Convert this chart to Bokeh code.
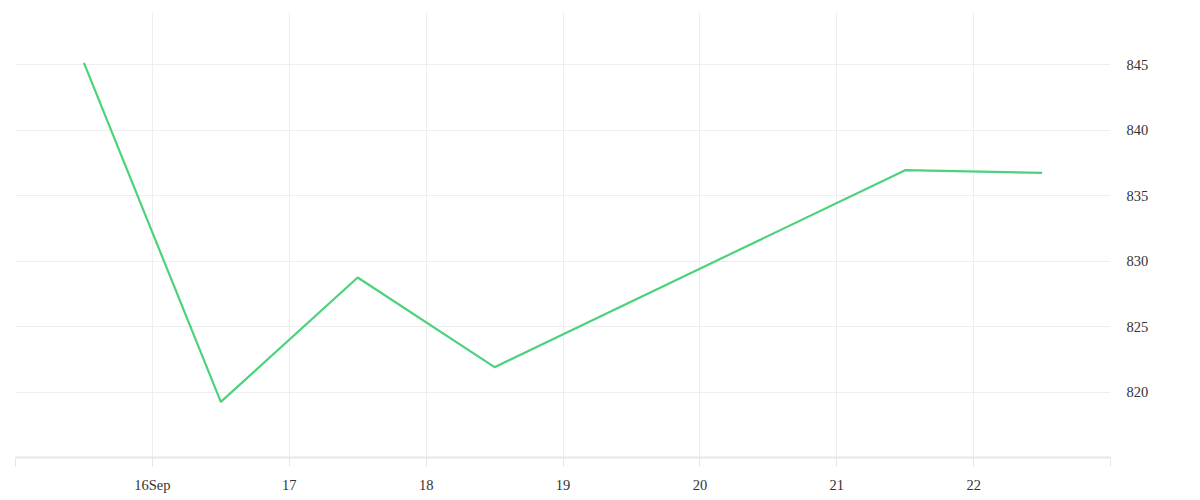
import pandas as pd
from bokeh.plotting import figure
from bokeh.models import FixedTicker, Range1d
from bokeh.embed import file_html
from bokeh.resources import INLINE

dates = ["2017-09-15 12:00", "2017-09-16 12:00", "2017-09-17 12:00",
         "2017-09-18 12:00", "2017-09-21 12:00", "2017-09-22 12:00"]
values = [845.15, 819.25, 828.75, 821.9, 836.95, 836.75]

tick_days = ["2017-09-15", "2017-09-16", "2017-09-17", "2017-09-18", "2017-09-19",
             "2017-09-20", "2017-09-21", "2017-09-22", "2017-09-23"]
tick_labels = ["", "16Sep", "17", "18", "19", "20", "21", "22", ""]
y_ticks = [820, 825, 830, 835, 840, 845]

def ms(s):
    return pd.Timestamp(s).value / 1e6

xs = [ms(d) for d in dates]
xt = [ms(d) for d in tick_days]

p = figure(width=1192, height=495, output_backend="svg", toolbar_location=None,
           x_range=Range1d(xt[0], xt[-1]), y_range=Range1d(815, 849),
           y_axis_location="right",
           min_border_left=15, min_border_top=12, min_border_right=82, min_border_bottom=34)
p.outline_line_color = None
p.background_fill_color = "white"
p.border_fill_color = "white"

p.line(xs, values, line_color="#4cd27b", line_width=2.2)

xa = p.xaxis[0]
xa.ticker = FixedTicker(ticks=xt)
xa.major_label_overrides = {t: l for t, l in zip(xt, tick_labels)}
xa.axis_line_color = "#e6e6e6"
xa.axis_line_width = 2
xa.major_tick_line_color = "#e6e6e6"
xa.major_tick_in = 0
xa.major_tick_out = 9
xa.minor_tick_line_color = None
xa.major_label_standoff = 10
xa.major_label_text_font = "Liberation Serif"
xa.major_label_text_font_size = "14.5px"
xa.major_label_text_color = "#333333"

ya = p.yaxis[0]
ya.ticker = FixedTicker(ticks=y_ticks)
ya.axis_line_color = None
ya.major_tick_line_color = None
ya.minor_tick_line_color = None
ya.major_tick_out = 0
ya.major_tick_in = 0
ya.major_label_standoff = 16
ya.major_label_text_font = "Liberation Serif"
ya.major_label_text_font_size = "14.5px"
ya.major_label_text_color = "#333333"

p.xgrid.ticker = FixedTicker(ticks=xt)
p.ygrid.ticker = FixedTicker(ticks=y_ticks)
p.xgrid.grid_line_color = "#eeeeee"
p.ygrid.grid_line_color = "#eeeeee"

open("out.html", "w").write(file_html(p, INLINE))
